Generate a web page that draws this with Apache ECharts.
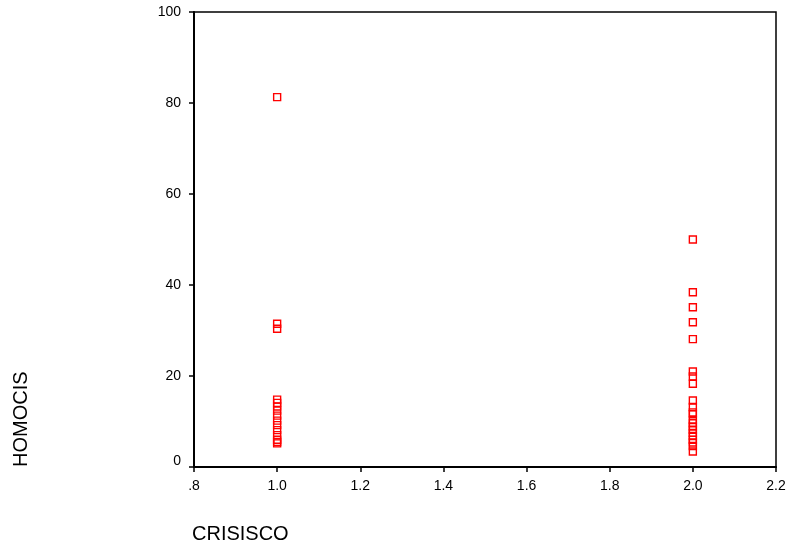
<!DOCTYPE html>
<html><head><meta charset="utf-8">
<script src="https://cdn.jsdelivr.net/npm/echarts@6/dist/echarts.min.js"></script>
<style>html,body{margin:0;padding:0;background:#fff}#c{width:786px;height:550px}</style>
</head><body><div id="c"></div>
<script>
var crisiscoLevels = [1.0, 2.0];
var homocisGroup1 = [81.3, 31.5, 30.4, 14.8, 14.1, 13.3, 12.4, 11.3, 10.2, 9.2, 8.1, 7.0, 6.0, 5.5, 5.2];
var homocisGroup2 = [50.0, 38.4, 35.1, 31.8, 28.1, 21.0, 19.9, 18.3, 14.6, 13.2, 12.0, 11.6, 10.3, 9.6, 8.9, 8.2, 7.5, 6.8, 6.0, 5.4, 4.6, 3.4];
var xTickLabels = {'0.8': '.8', '1': '1.0', '1.2': '1.2', '1.4': '1.4', '1.6': '1.6', '1.8': '1.8', '2': '2.0', '2.2': '2.2'};

var groups = [homocisGroup1, homocisGroup2];
var points = [];
groups.forEach(function (g, i) {
  g.forEach(function (v) { points.push([crisiscoLevels[i], v]); });
});

var font = 'Liberation Sans, Arial, sans-serif';
var chart = echarts.init(document.getElementById('c'), null, {renderer: 'canvas'});
chart.setOption({
  animation: false,
  backgroundColor: '#fff',
  grid: {left: 194, right: 10, top: 12, bottom: 83, outerBoundsMode: 'none', containLabel: false, show: true, borderColor: '#000', borderWidth: 1.5, backgroundColor: 'transparent'},
  xAxis: {
    type: 'value', min: 0.8, max: 2.2, interval: 0.2,
    axisLine: {show: true, onZero: false, lineStyle: {color: '#000', width: 2}},
    axisTick: {show: true, length: 5, inside: false, lineStyle: {color: '#000', width: 1.5}},
    splitLine: {show: false},
    axisLabel: {
      color: '#000', fontFamily: font, fontSize: 14, margin: 12,
      showMinLabel: true, showMaxLabel: true,
      formatter: function (v) { var k = String(Math.round(v * 10) / 10); return xTickLabels[k] !== undefined ? xTickLabels[k] : k; }
    }
  },
  yAxis: {
    type: 'value', min: 0, max: 100, interval: 20,
    axisLine: {show: true, onZero: false, lineStyle: {color: '#000', width: 2}},
    axisTick: {show: true, length: 5, inside: false, lineStyle: {color: '#000', width: 1.5}},
    splitLine: {show: false},
    axisLabel: {
      color: '#000', fontFamily: font, fontSize: 14, margin: 13,
      formatter: function (v) { return v === 0 ? '{z|0}' : String(v); },
      rich: {z: {color: '#000', fontFamily: font, fontSize: 14, padding: [0, 0, 12, 0]}}
    }
  },
  graphic: [
    {type: 'text', left: 192, top: 524, style: {text: 'CRISISCO', fontFamily: font, fontSize: 20, fill: '#000'}},
    {type: 'text', x: 11, y: 467, rotation: Math.PI / 2, style: {text: 'HOMOCIS', fontFamily: font, fontSize: 20, fill: '#000', align: 'left', verticalAlign: 'top'}}
  ],
  series: [{
    type: 'scatter', data: points, symbol: 'rect', symbolSize: 7,
    itemStyle: {color: 'rgba(0,0,0,0)', borderColor: '#ff0000', borderWidth: 1.4, opacity: 1}
  }]
});
</script></body></html>
